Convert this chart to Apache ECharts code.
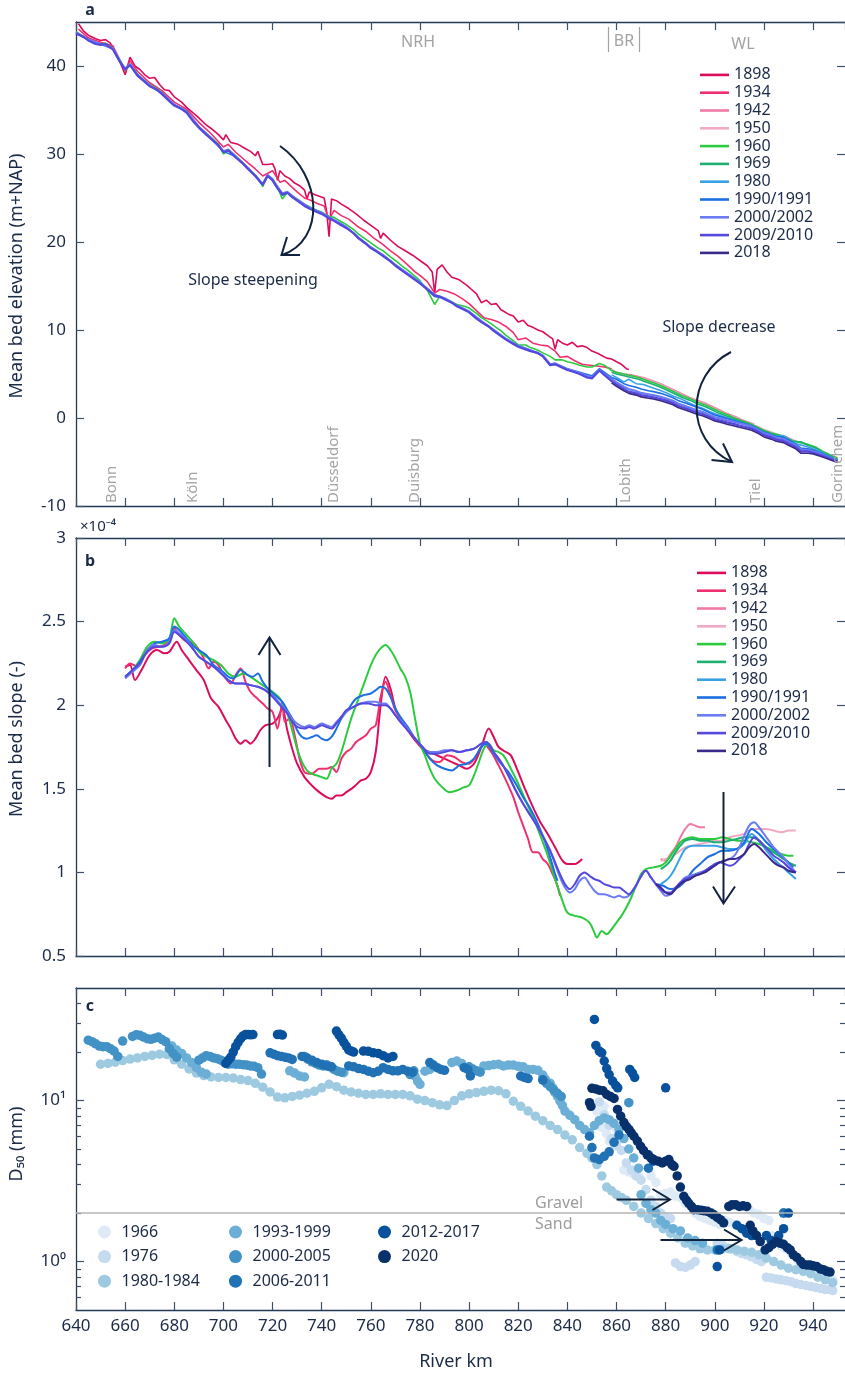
<!DOCTYPE html>
<html><head><meta charset="utf-8">
<script src="https://cdn.jsdelivr.net/npm/echarts@6/dist/echarts.min.js"></script>
<style>html,body{margin:0;padding:0;background:#fff}#chart{width:845px;height:1373px}</style>
</head><body><div id="chart"></div>
<script>
// ---------------- Panel a: mean bed elevation (m+NAP) ----------------
const elev1898 = [[641,44.8],[643,44.0],[645,43.5],[648,43.1],[650,42.9],[652,43.0],[654,42.6],[656,41.4],[658,40.4],[660,39.0],[662,41.0],[664,40.0],[666,39.6],[668,39.0],[670,38.6],[672,38.7],[674,37.9],[676,37.3],[678,37.2],[680,36.5],[683,35.9],[685,35.3],[688,34.6],[690,34.1],[693,33.3],[695,32.9],[698,32.2],[700,31.6],[701,32.2],[703,31.3],[706,31.1],[709,30.6],[711,30.3],[713,29.8],[714,30.3],[716,28.8],[718,28.8],[720,28.9],[721,28.3],[722,27.0],[723,28.1],[725,27.5],[727,27.2],[729,26.7],[731,26.4],[733,25.9],[734,24.9],[735,25.7],[737,25.4],[739,25.2],[741,25.0],[742,23.5],[743,20.6],[744,24.9],[746,24.7],[748,24.3],[751,23.8],[754,23.2],[757,22.5],[760,21.9],[763,21.3],[764,20.4],[765,21.0],[768,20.2],[771,19.5],[774,19.0],[777,18.5],[780,17.9],[783,17.3],[785,16.6],[786,14.2],[787,16.9],[789,17.4],[791,16.6],[793,16.0],[796,15.7],[799,15.1],[801,14.6],[803,14.1],[805,13.1],[807,13.4],[809,12.9],[811,13.0],[813,12.3],[816,11.8],[818,11.6],[820,10.9],[822,11.1],[824,10.5],[826,10.3],[828,10.0],[830,9.8],[832,9.4],[834,9.0],[835,7.8],[836,8.9],[838,8.5],[840,8.3],[842,8.6],[844,8.1],[846,8.2],[848,8.0],[850,7.6],[852,7.4],[854,7.1],[856,6.8],[858,6.7],[860,6.4],[862,6.1],[864,5.6],[865,5.5]];
const elev1934 = [[641,44.2],[645,43.2],[650,42.7],[655,42.3],[658,40.6],[660,39.4],[662,40.6],[665,39.4],[670,38.1],[675,37.2],[680,35.9],[685,35.1],[690,33.6],[695,32.3],[700,30.8],[702,31.1],[705,30.2],[710,29.0],[713,28.3],[716,27.5],[720,28.1],[723,26.8],[725,27.0],[728,26.2],[730,25.7],[733,25.0],[735,24.8],[738,24.4],[741,24.1],[743,22.5],[745,23.6],[748,23.0],[751,22.6],[755,21.7],[758,21.2],[761,20.5],[765,19.7],[768,19.0],[771,18.4],[775,17.4],[778,16.6],[780,16.2],[783,15.5],[786,14.2],[788,14.6],[791,14.4],[794,14.1],[797,13.6],[800,13.0],[803,12.2],[806,11.4],[809,11.2],[812,10.9],[815,10.4],[818,9.7],[820,8.9],[823,9.1],[826,8.5],[829,8.3],[832,8.2],[835,7.6],[837,6.9],[840,7.0],[843,6.5],[846,6.1],[849,6.0],[852,5.9],[855,5.8],[858,5.6]];
const elev1942 = [[858,5.5],[860,5.2],[863,5.0],[866,4.9],[869,4.7],[872,4.5],[875,4.2],[878,3.9],[881,3.5],[884,3.1],[887,2.7],[890,2.3],[893,2.0],[896,1.7],[899,1.3],[902,0.9],[905,0.5],[908,0.2],[911,-0.2],[914,-0.5],[916,-0.7]];
const elev1950 = [[858,5.4],[860,5.1],[863,4.9],[866,4.8],[869,4.6],[872,4.4],[875,4.1],[878,3.8],[881,3.4],[884,3.0],[887,2.6],[890,2.2],[893,1.9],[896,1.6],[899,1.2],[902,0.8],[905,0.4],[908,0.1],[911,-0.3],[914,-0.6],[917,-0.9],[920,-1.3],[923,-1.6],[926,-1.9],[929,-2.1],[932,-2.5],[935,-2.8],[938,-3.1],[941,-3.4],[944,-3.8],[947,-4.2],[950,-4.5]];
const elev1960 = [[640,43.9],[643,43.4],[645,43.0],[648,42.5],[650,42.5],[652,42.6],[655,42.0],[658,40.6],[660,39.5],[662,40.2],[665,39.1],[668,38.3],[670,37.9],[673,37.4],[675,37.0],[678,36.1],[680,35.6],[683,35.2],[685,34.8],[688,33.7],[690,33.0],[693,32.3],[695,31.9],[698,31.1],[700,30.0],[702,30.4],[705,29.8],[708,29.0],[710,28.4],[713,27.6],[715,26.9],[716,26.3],[718,27.6],[720,27.2],[722,26.2],[724,24.9],[726,25.6],[728,25.2],[730,24.9],[733,24.3],[735,24.0],[738,23.6],[740,23.4],[743,22.9],[745,22.8],[748,22.3],[750,22.0],[753,21.4],[755,20.9],[758,20.3],[760,19.9],[763,19.3],[765,19.0],[768,18.3],[770,17.9],[773,17.2],[775,16.8],[778,16.1],[780,15.6],[783,14.5],[786,12.9],[788,13.8],[790,13.6],[793,13.2],[795,12.9],[798,12.7],[800,12.5],[803,11.9],[805,11.4],[808,10.9],[810,10.5],[813,9.9],[815,9.4],[818,8.8],[820,8.3],[823,8.3],[825,8.0],[828,7.7],[830,7.4],[833,7.0],[835,6.6],[838,6.6],[840,6.4],[843,6.2],[845,6.0],[848,5.8],[850,5.8],[853,6.2],[855,6.0],[858,5.4],[860,5.2],[863,5.0],[866,4.8],[869,4.6],[872,4.3],[875,4.0],[878,3.7],[881,3.3],[884,2.9],[887,2.5],[890,2.2],[893,1.8],[896,1.5],[899,1.1],[902,0.7],[905,0.4],[908,0.0],[911,-0.3],[914,-0.6],[917,-1.0],[920,-1.4],[923,-1.7],[926,-1.9],[929,-2.2],[932,-2.6],[935,-2.8],[938,-3.0],[941,-3.3],[944,-3.8],[947,-4.2],[950,-4.6]];
const elev1969 = [[858,5.2],[860,5.0],[863,4.8],[866,4.6],[869,4.4],[872,4.1],[875,3.8],[878,3.5],[881,3.1],[884,2.7],[887,2.3],[890,2.0],[893,1.6],[896,1.3],[899,0.9],[902,0.5],[905,0.2],[908,-0.1],[911,-0.4],[914,-0.7],[917,-1.1],[920,-1.5],[923,-1.8],[926,-2.0],[929,-2.2],[932,-2.7],[935,-2.7],[938,-3.1],[941,-3.4],[944,-3.9],[947,-4.3],[950,-4.7]];
const elev1980 = [[858,4.9],[860,4.6],[863,4.1],[865,4.4],[868,3.9],[871,3.8],[874,3.5],[877,3.2],[880,2.9],[883,2.5],[886,2.2],[889,1.8],[892,1.4],[895,1.1],[898,0.7],[901,0.4],[904,0.1],[907,-0.2],[910,-0.5],[913,-0.8],[916,-1.2],[919,-1.5],[922,-1.8],[925,-2.1],[928,-2.0],[931,-2.6],[934,-3.0],[937,-3.2],[940,-3.5],[943,-3.8],[946,-4.3],[950,-4.8]];
const elev1990 = [[640,43.8],[645,43.0],[650,42.5],[655,42.0],[658,40.5],[660,39.7],[662,40.2],[665,39.0],[670,37.8],[675,36.9],[680,35.6],[685,34.9],[690,33.1],[695,31.8],[700,30.3],[705,29.7],[710,28.4],[715,26.9],[716,26.5],[718,27.6],[720,27.1],[724,25.3],[726,25.6],[730,24.8],[735,23.9],[740,23.3],[745,22.5],[750,21.7],[755,20.5],[760,19.4],[765,18.5],[770,17.4],[775,16.4],[780,15.4],[786,13.8],[790,13.6],[795,12.8],[800,12.1],[805,11.0],[810,10.0],[815,9.0],[820,8.2],[825,7.7],[830,7.1],[833,6.0],[835,6.2],[840,5.6],[845,5.2],[850,4.8],[853,5.6],[855,5.2],[858,4.6],[860,4.4],[863,3.9],[865,3.7],[868,3.5],[870,3.3],[873,3.1],[875,3.0],[878,2.8],[880,2.6],[883,2.3],[885,2.0],[888,1.7],[890,1.5],[893,1.2],[895,1.0],[898,0.6],[900,0.35],[903,0.1],[905,-0.05],[908,-0.3],[910,-0.45],[913,-0.7],[915,-0.85],[918,-1.3],[920,-1.6],[923,-1.9],[925,-2.1],[928,-2.2],[930,-2.5],[933,-3.0],[935,-3.4],[938,-3.5],[940,-3.65],[943,-3.95],[945,-4.2],[948,-4.6],[950,-4.8]];
const elev2000 = [[640,43.8],[645,43.0],[650,42.5],[655,42.0],[658,40.5],[660,39.7],[662,40.2],[665,39.0],[670,37.8],[675,36.9],[680,35.6],[685,34.8],[690,33.1],[695,31.8],[700,30.3],[702,30.5],[705,29.7],[710,28.4],[715,26.9],[716,26.6],[718,27.6],[720,27.1],[724,25.5],[726,25.7],[730,24.8],[735,23.9],[740,23.3],[745,22.5],[750,21.7],[755,20.5],[760,19.4],[765,18.5],[770,17.4],[775,16.4],[780,15.4],[783,14.7],[786,14.0],[790,13.6],[795,12.8],[800,12.1],[805,11.0],[810,10.0],[815,9.0],[820,8.2],[825,7.7],[830,7.1],[833,6.1],[835,6.2],[840,5.55],[845,5.1],[850,4.6],[853,5.5],[855,5.0],[858,4.45],[860,4.05],[863,3.55],[865,3.3],[868,3.05],[870,2.85],[873,2.7],[875,2.6],[878,2.4],[880,2.25],[883,1.95],[885,1.65],[888,1.35],[890,1.15],[893,0.85],[895,0.7],[898,0.35],[900,0.1],[903,-0.1],[905,-0.25],[908,-0.45],[910,-0.6],[913,-0.8],[915,-0.95],[918,-1.4],[920,-1.75],[923,-2.0],[925,-2.25],[928,-2.4],[930,-2.7],[933,-3.1],[935,-3.6],[938,-3.65],[940,-3.8],[943,-4.05],[945,-4.3],[948,-4.65],[950,-4.85]];
const elev2009 = [[640,43.7],[643,43.3],[645,42.9],[648,42.5],[650,42.4],[652,42.5],[655,41.9],[658,40.4],[660,39.6],[662,40.1],[665,38.9],[668,38.2],[670,37.7],[673,37.3],[675,36.8],[678,36.0],[680,35.5],[683,35.1],[685,34.7],[688,33.6],[690,33.0],[693,32.2],[695,31.7],[698,31.0],[700,30.2],[702,30.4],[705,29.6],[708,28.9],[710,28.3],[713,27.5],[715,26.8],[716,26.5],[718,27.5],[720,27.0],[722,26.1],[724,25.4],[726,25.6],[728,25.1],[730,24.7],[733,24.1],[735,23.8],[738,23.4],[740,23.2],[743,22.7],[745,22.4],[748,21.9],[750,21.6],[753,21.0],[755,20.4],[758,19.8],[760,19.3],[763,18.8],[765,18.4],[768,17.8],[770,17.3],[773,16.7],[775,16.3],[778,15.7],[780,15.3],[783,14.6],[786,13.9],[788,13.8],[790,13.5],[793,13.1],[795,12.7],[798,12.3],[800,12.0],[803,11.3],[805,10.9],[808,10.4],[810,9.9],[813,9.3],[815,8.9],[818,8.4],[820,8.1],[823,7.8],[825,7.6],[828,7.4],[830,7.0],[833,6.0],[835,6.1],[838,5.7],[840,5.45],[843,5.2],[845,5.0],[848,4.6],[850,4.5],[853,5.4],[855,4.9],[858,4.2],[860,3.8],[863,3.3],[865,3.0],[868,2.8],[870,2.6],[873,2.45],[875,2.35],[878,2.15],[880,2.0],[883,1.7],[885,1.4],[888,1.1],[890,0.9],[893,0.6],[895,0.45],[898,0.1],[900,-0.15],[903,-0.35],[905,-0.5],[908,-0.7],[910,-0.85],[913,-1.05],[915,-1.2],[918,-1.6],[920,-1.95],[923,-2.2],[925,-2.45],[928,-2.6],[930,-2.9],[933,-3.3],[935,-3.8],[938,-3.8],[940,-3.95],[943,-4.2],[945,-4.4],[948,-4.75],[950,-4.95]];
const elev2018 = [[858,4.0],[860,3.6],[863,3.1],[865,2.8],[868,2.6],[870,2.4],[873,2.25],[875,2.15],[878,1.95],[880,1.8],[883,1.5],[885,1.2],[888,0.9],[890,0.7],[893,0.4],[895,0.25],[898,-0.1],[900,-0.35],[903,-0.55],[905,-0.7],[908,-0.9],[910,-1.05],[913,-1.25],[915,-1.4],[918,-1.8],[920,-2.15],[923,-2.4],[925,-2.65],[928,-2.8],[930,-3.1],[933,-3.5],[935,-4.0],[938,-4.0],[940,-4.1],[943,-4.35],[945,-4.55],[948,-4.85],[950,-5.05]];

// ---------------- Panel b: mean bed slope (x 1e-4) ----------------
const slope1898 = [[660,2.23],[662,2.24],[664,2.15],[667,2.22],[670,2.30],[673,2.33],[676,2.31],[678,2.32],[681,2.38],[683,2.33],[686,2.27],[689,2.21],[692,2.15],[695,2.04],[698,1.99],[701,1.91],[703,1.86],[705,1.80],[707,1.77],[709,1.79],[711,1.77],[713,1.80],[715,1.85],[717,1.88],[720,1.89],[722,1.92],[724,1.98],[726,1.85],[728,1.74],[730,1.65],[733,1.57],[736,1.52],[739,1.48],[742,1.45],[744,1.44],[746,1.46],[748,1.46],[750,1.48],[753,1.51],[756,1.55],[758,1.56],[760,1.60],[762,1.72],[764,2.00],[766,2.17],[768,2.10],[770,1.98],[772,1.92],[775,1.85],[778,1.79],[781,1.74],[784,1.72],[787,1.70],[790,1.68],[793,1.66],[796,1.64],[799,1.62],[802,1.65],[805,1.75],[808,1.86],[810,1.81],[812,1.75],[815,1.72],[817,1.70],[820,1.60],[823,1.49],[826,1.39],[829,1.30],[832,1.23],[835,1.15],[838,1.07],[840,1.05],[843,1.05],[846,1.08]];
const slope1934 = [[660,2.22],[662,2.25],[665,2.23],[668,2.30],[671,2.34],[674,2.35],[677,2.37],[680,2.46],[682,2.42],[685,2.38],[688,2.37],[690,2.33],[692,2.28],[694,2.22],[696,2.26],[698,2.24],[700,2.18],[703,2.13],[705,2.18],[707,2.22],[709,2.14],[711,2.08],[713,2.05],[716,2.01],[718,1.98],[720,1.96],[722,1.86],[724,2.02],[725,1.90],[727,1.92],[729,1.82],[731,1.68],[733,1.60],[736,1.59],[739,1.62],[742,1.62],[744,1.63],[746,1.60],[748,1.68],[750,1.72],[752,1.74],[754,1.78],[756,1.80],[758,1.82],[760,1.86],[762,1.88],[764,2.05],[766,2.14],[768,2.06],[770,1.97],[773,1.90],[776,1.84],[779,1.78],[782,1.72],[785,1.67],[788,1.66],[791,1.70],[794,1.69],[797,1.66],[800,1.65],[803,1.70],[806,1.77],[809,1.72],[812,1.64],[815,1.55],[818,1.45],[820,1.36],[822,1.28],[824,1.20],[826,1.12],[828,1.12],[830,1.08],[832,1.05],[834,0.99],[836,0.92],[837,0.86]];
const slope1942 = [[878,1.08],[880,1.07],[882,1.11],[884,1.15],[886,1.21],[888,1.26],[890,1.29],[892,1.28],[894,1.27],[896,1.27]];
const slope1950 = [[878,1.07],[880,1.08],[882,1.09],[885,1.12],[888,1.15],[891,1.16],[894,1.17],[897,1.18],[900,1.19],[903,1.19],[906,1.21],[909,1.22],[912,1.23],[915,1.26],[918,1.26],[921,1.26],[924,1.25],[927,1.24],[930,1.25],[933,1.25]];
const slope1960 = [[660,2.17],[663,2.21],[666,2.27],[669,2.35],[672,2.38],[675,2.37],[678,2.40],[680,2.52],[682,2.47],[685,2.42],[688,2.37],[690,2.32],[693,2.29],[696,2.27],[699,2.24],[702,2.19],[705,2.17],[708,2.19],[711,2.17],[714,2.14],[717,2.11],[720,2.08],[723,2.04],[726,1.95],[728,1.85],[730,1.74],[732,1.66],[734,1.61],[736,1.59],[738,1.58],[740,1.57],[742,1.56],[744,1.62],[746,1.65],[748,1.72],[750,1.82],[752,1.92],[754,2.00],[756,2.08],[758,2.16],[760,2.24],[762,2.30],[764,2.34],[766,2.36],[768,2.33],[770,2.28],[772,2.22],[774,2.17],[776,2.08],[778,1.92],[780,1.77],[782,1.70],[784,1.62],[786,1.56],[789,1.51],[792,1.48],[795,1.49],[798,1.51],[800,1.52],[802,1.58],[804,1.66],[806,1.74],[808,1.77],[810,1.73],[812,1.72],[814,1.70],[817,1.62],[820,1.53],[823,1.43],[826,1.33],[829,1.22],[832,1.10],[835,0.96],[838,0.83],[840,0.76],[843,0.74],[846,0.73],[849,0.70],[851,0.64],[852,0.61],[854,0.65],[856,0.63],[858,0.66],[860,0.70],[862,0.74],[864,0.79],[866,0.85],[868,0.92],[870,0.99],[872,1.02],[875,1.03],[878,1.04],[880,1.06],[882,1.10],[884,1.14],[886,1.18],[888,1.20],[891,1.21],[894,1.20],[897,1.20],[900,1.20],[903,1.21],[906,1.20],[909,1.19],[912,1.19],[915,1.18],[918,1.17],[921,1.15],[924,1.13],[927,1.11],[930,1.10],[932,1.10]];
const slope1969 = [[878,1.02],[880,1.04],[882,1.07],[884,1.12],[886,1.16],[888,1.19],[891,1.20],[894,1.19],[897,1.19],[900,1.18],[903,1.18],[906,1.19],[909,1.20],[912,1.21],[915,1.21],[918,1.19],[921,1.15],[924,1.12],[927,1.09],[930,1.06],[933,1.04]];
const slope1980 = [[878,0.93],[880,0.95],[882,0.98],[884,1.03],[886,1.09],[888,1.14],[891,1.16],[894,1.16],[897,1.16],[900,1.16],[903,1.15],[906,1.14],[909,1.14],[912,1.17],[915,1.23],[918,1.19],[921,1.13],[924,1.08],[927,1.04],[930,1.00],[933,0.96]];
const slope1990 = [[660,2.17],[663,2.21],[666,2.26],[669,2.33],[672,2.37],[675,2.38],[678,2.40],[680,2.47],[682,2.45],[685,2.40],[688,2.35],[690,2.33],[693,2.30],[696,2.24],[699,2.21],[702,2.17],[704,2.16],[707,2.21],[710,2.18],[712,2.17],[714,2.19],[716,2.14],[718,2.10],[721,2.06],[724,2.02],[726,1.97],[728,1.92],[730,1.85],[732,1.81],[734,1.80],[736,1.81],[738,1.82],[740,1.80],[742,1.79],[744,1.81],[746,1.86],[748,1.92],[751,1.98],[754,2.04],[757,2.06],[760,2.07],[762,2.09],[764,2.11],[766,2.10],[768,2.05],[770,1.98],[772,1.93],[775,1.87],[778,1.80],[781,1.75],[784,1.68],[787,1.64],[790,1.62],[793,1.61],[796,1.64],[799,1.65],[802,1.68],[805,1.75],[807,1.77],[810,1.71],[813,1.65],[816,1.60],[819,1.53],[822,1.45],[825,1.38],[828,1.29],[831,1.18],[833,1.09],[835,0.99],[836,0.95],[856,null],[876,0.93],[879,0.92],[882,0.90],[885,0.91],[888,0.95],[891,1.01],[894,1.05],[897,1.09],[900,1.11],[903,1.13],[906,1.13],[909,1.14],[912,1.18],[915,1.26],[918,1.23],[921,1.18],[924,1.14],[927,1.10],[930,1.06],[932,1.03]];
const slope2000 = [[660,2.16],[663,2.20],[666,2.24],[669,2.33],[672,2.36],[675,2.35],[678,2.38],[680,2.45],[682,2.43],[685,2.39],[688,2.33],[690,2.29],[693,2.26],[696,2.23],[699,2.20],[702,2.15],[705,2.13],[708,2.13],[711,2.12],[714,2.11],[717,2.09],[720,2.06],[723,2.01],[726,1.96],[728,1.92],[730,1.89],[733,1.87],[735,1.88],[737,1.87],[740,1.89],[742,1.88],[744,1.87],[746,1.90],[748,1.93],[750,1.96],[753,1.99],[756,2.01],[759,2.02],[762,2.02],[764,2.01],[766,2.01],[768,1.98],[770,1.94],[772,1.91],[775,1.86],[778,1.80],[781,1.75],[784,1.72],[787,1.72],[790,1.73],[793,1.73],[796,1.72],[799,1.73],[802,1.74],[805,1.77],[807,1.78],[810,1.72],[813,1.66],[816,1.58],[819,1.49],[822,1.41],[825,1.34],[828,1.27],[831,1.19],[833,1.13],[835,1.05],[837,0.97],[839,0.91],[841,0.88],[843,0.90],[845,0.95],[847,0.97],[849,0.93],[851,0.89],[853,0.87],[855,0.87],[857,0.86],[859,0.85],[861,0.86],[863,0.85],[865,0.86],[867,0.90],[869,0.95],[871,1.00],[872,1.01],[874,0.97],[876,0.93],[878,0.89],[880,0.86],[882,0.87],[884,0.90],[886,0.94],[888,0.97],[890,0.98],[892,0.99],[894,1.00],[896,1.01],[898,1.03],[900,1.05],[902,1.06],[904,1.07],[906,1.08],[908,1.10],[910,1.15],[912,1.22],[914,1.28],[916,1.30],[918,1.27],[920,1.23],[922,1.19],[924,1.15],[926,1.12],[928,1.09],[930,1.05],[933,1.00]];
const slope2009 = [[660,2.17],[663,2.21],[666,2.25],[669,2.32],[672,2.35],[675,2.35],[678,2.37],[680,2.44],[682,2.42],[685,2.38],[688,2.33],[690,2.29],[693,2.26],[696,2.23],[699,2.19],[702,2.15],[705,2.13],[708,2.13],[711,2.12],[714,2.11],[717,2.09],[720,2.05],[723,2.00],[726,1.95],[728,1.90],[730,1.87],[733,1.86],[735,1.87],[737,1.86],[740,1.88],[742,1.87],[744,1.86],[746,1.89],[748,1.93],[750,1.97],[753,1.99],[756,2.01],[759,2.01],[762,2.00],[764,2.00],[766,2.00],[768,1.98],[770,1.94],[772,1.90],[775,1.85],[778,1.80],[781,1.75],[784,1.71],[787,1.71],[790,1.72],[793,1.73],[796,1.72],[799,1.73],[802,1.74],[805,1.77],[807,1.78],[810,1.72],[813,1.66],[816,1.58],[819,1.49],[822,1.41],[825,1.34],[828,1.27],[831,1.19],[833,1.13],[835,1.06],[837,0.99],[839,0.93],[841,0.90],[843,0.93],[845,0.98],[847,1.00],[849,0.98],[851,0.96],[853,0.95],[855,0.93],[857,0.92],[859,0.91],[861,0.91],[863,0.89],[865,0.87],[867,0.90],[869,0.95],[871,1.00],[872,1.01],[874,0.97],[876,0.93],[878,0.90],[880,0.88],[882,0.88],[884,0.91],[886,0.94],[888,0.96],[890,0.97],[892,0.98],[894,0.99],[896,1.01],[898,1.03],[900,1.05],[902,1.06],[904,1.05],[906,1.04],[908,1.05],[910,1.08],[912,1.11],[914,1.17],[916,1.21],[918,1.19],[920,1.16],[922,1.13],[924,1.10],[926,1.08],[928,1.06],[930,1.03],[933,1.00]];
const slope2018 = [[876,0.93],[878,0.91],[880,0.88],[882,0.87],[884,0.90],[886,0.93],[888,0.95],[890,0.96],[892,0.98],[894,0.99],[896,1.00],[898,1.02],[900,1.04],[902,1.06],[904,1.07],[906,1.08],[908,1.08],[910,1.09],[912,1.11],[914,1.15],[916,1.17],[918,1.15],[920,1.12],[922,1.09],[924,1.06],[926,1.04],[928,1.03],[930,1.01],[933,1.00]];

// ---------------- Panel c: D50 (mm) ----------------
const d50_1966 = [[852,8.6],[853,7.6],[854,6.8],[855,9.2],[856,6.2],[857,5.6],[858,7.4],[859,5.2],[860,6.6],[862,5.8],[863,3.7],[865,3.6],[867,3.5],[869,3.4],[874,3.4],[876,3.1],[878,2.6],[880,2.65],[882,2.7],[884,2.55],[886,2.5],[888,2.3],[892,2.0],[894,1.9],[896,1.85],[898,1.8],[900,1.75],[902,1.7],[904,1.8],[906,1.75],[908,1.7],[914,2.1],[916,2.0],[918,1.95],[920,1.85],[922,1.8],[923,1.45],[925,1.35],[927,1.25],[929,1.2],[931,1.13],[934,1.0],[936,0.96],[938,0.93],[940,0.9],[942,0.88],[944,0.85],[946,0.8],[948,0.77]];
const d50_1976 = [[853,9.8],[855,8.2],[857,7.0],[858,5.8],[860,5.3],[862,4.9],[864,4.1],[866,3.7],[868,3.4],[870,3.2],[872,2.8],[874,2.4],[876,2.2],[878,2.0],[880,1.9],[882,1.85],[884,0.98],[886,0.93],[888,0.92],[890,0.95],[892,1.0],[901,1.3],[903,1.27],[905,1.22],[907,1.2],[909,1.15],[911,1.12],[913,1.1],[915,1.07],[917,1.03],[919,1.0],[921,0.8],[923,0.79],[925,0.78],[927,0.77],[929,0.76],[931,0.75],[933,0.73],[935,0.72],[937,0.71],[939,0.7],[941,0.69],[943,0.68],[945,0.67],[947,0.67],[948,0.66]];
const d50_1980 = [[650,16.8],[653,17.0],[656,17.3],[659,17.7],[662,18.1],[665,18.4],[668,18.8],[671,19.1],[674,19.4],[677,19.3],[680,17.9],[683,16.8],[686,15.7],[689,14.8],[692,14.3],[695,14.0],[698,13.9],[701,13.9],[704,13.8],[707,13.5],[710,13.3],[713,12.8],[716,12.1],[719,11.3],[722,10.5],[725,10.4],[728,10.6],[731,10.8],[734,11.1],[737,11.4],[740,12.0],[743,12.6],[746,12.2],[749,11.6],[752,11.3],[755,11.1],[758,10.9],[761,10.9],[764,11.0],[767,10.9],[770,10.9],[773,10.9],[776,10.7],[779,10.2],[782,10.0],[785,9.7],[788,9.4],[791,9.3],[794,10.0],[797,10.7],[800,11.0],[803,11.2],[806,11.4],[809,11.6],[812,11.5],[815,11.0],[818,9.9],[821,9.2],[824,8.6],[827,8.0],[830,7.5],[833,7.0],[836,6.6],[839,6.1],[842,5.7],[845,5.1],[848,4.7],[850,4.4],[852,4.0],[854,3.4],[856,2.9],[858,2.75],[860,2.6],[862,2.5],[864,2.4],[867,2.2],[870,2.0],[873,1.85],[876,1.72],[879,1.6],[882,1.5],[885,1.4],[888,1.3],[891,1.25],[894,1.2],[897,1.18],[900,1.18],[903,1.2],[906,1.2],[909,1.18],[912,1.16],[915,1.14],[918,1.1],[921,1.05],[924,1.0],[927,0.95],[930,0.91],[933,0.89],[936,0.87],[939,0.84],[942,0.8],[945,0.77],[948,0.74]];
const d50_1993 = [[679,21.8],[681,20.6],[683,19.6],[685,18.4],[687,17.2],[689,16.0],[691,15.0],[693,14.6],[727,15.3],[729,14.8],[731,14.2],[733,14.0],[749,14.9],[778,14.2],[779,13.2],[780,12.6],[782,15.2],[784,15.6],[793,17.2],[795,17.6],[797,17.0],[806,16.4],[808,16.5],[810,16.7],[812,16.8],[814,16.4],[816,16.6],[818,16.6],[820,16.3],[822,16.2],[824,15.6],[826,15.6],[828,15.4],[830,14.4],[831,13.6],[833,12.8],[834,12.0],[835,11.2],[836,10.6],[837,9.9],[838,9.3],[839,8.6],[841,8.1],[843,7.6],[845,7.0],[847,6.6],[849,6.3],[851,7.0],[853,7.5],[855,7.8],[857,7.6],[859,7.2],[861,6.6],[863,5.8],[865,5.0],[867,4.4],[869,3.8],[870,2.6],[872,2.3],[874,2.1],[876,2.0],[878,1.8],[880,1.7],[883,1.6],[886,1.55],[889,1.4],[892,1.35],[895,1.3]];
const d50_2000 = [[645,23.7],[646.5,23.2],[648,22.5],[649.5,21.8],[651,21.6],[652.5,21.6],[654,21.0],[655.5,20.3],[657,18.8],[659,23.4],[663,25.0],[664.5,25.6],[666,25.4],[667.5,24.8],[669,24.2],[670.5,24.0],[672,24.4],[673.5,24.8],[675,23.9],[676.5,23.2],[678,21.0],[679.5,19.6],[681,18.6],[690,17.8],[691.5,18.4],[693,19.0],[694.5,18.8],[696,18.4],[697.5,18.2],[699,17.8],[700.5,17.2],[702,16.8],[703.5,16.9],[705,16.8],[706.5,16.8],[708,16.7],[709.5,16.6],[711,16.4],[712.5,16.3],[714,16.0],[715.5,14.6],[733,18.8],[734.5,18.0],[736,17.4],[737.5,17.0],[739,16.6],[740.5,16.4],[742,16.7],[743.5,16.2],[745,15.6],[746.5,15.2],[748,15.0],[776,14.5],[777.5,15.3],[800,16.2],[801.5,15.7],[803,15.3],[804.5,15.0],[830,13.5],[831.5,12.8],[833,12.2],[834.5,11.6],[836,11.1],[837.5,10.6],[865,9.7],[928,2.0]];
const d50_2006 = [[719,19.8],[720.5,19.4],[722,19.0],[723.5,18.8],[725,18.6],[726.5,18.4],[728,18.0],[732,18.8],[734,18.4],[736,17.8],[738,17.2],[740,16.8],[742,16.4],[744,16.2],[751,16.4],[753,16.2],[755,15.8],[757,15.6],[759,15.2],[761,14.9],[763,15.2],[765,16.0],[767,15.6],[769,15.3],[771,15.3],[773,15.6],[775,15.2],[777,15.0],[784,17.2],[785.5,16.6],[787,16.0],[788.5,15.6],[790,15.4],[798,16.0],[799.5,15.6],[800.5,14.2],[821,14.2],[822.5,13.9],[824,13.7],[830,13.4],[849,6.0],[850,5.1],[851,4.4],[853,4.3],[855,4.5],[857,4.8],[859,5.5],[861,6.1],[873,3.8],[901,1.18],[928,2.0]];
const d50_2012 = [[701,17.0],[702,17.8],[703,18.6],[704,20.0],[705,21.6],[706,23.0],[707,24.2],[708,25.2],[709,25.7],[710,25.7],[711,25.6],[712,25.7],[722,25.7],[723,25.8],[724,25.5],[746,27.0],[747,25.6],[748,24.4],[749,23.0],[750,21.8],[751,20.6],[752,20.3],[753,20.0],[757,20.3],[759,20.2],[761,19.8],[763,19.6],[765,19.0],[767,18.4],[769,18.8],[851,31.9],[851.6,22.0],[853,20.3],[854,19.8],[855,17.6],[856,15.8],[857,14.5],[858.4,13.2],[859.7,12.4],[860.5,12.0],[865.4,15.6],[866.5,14.8],[867.4,13.9],[873,4.6],[875,4.2],[880,12.0],[901,0.93],[902,1.18],[909,1.68],[911,1.6],[913,1.5],[915,1.45],[921,1.45],[923,1.35],[926,1.45],[928,1.6],[930,2.0]];
const d50_2020 = [[849,9.7],[849.6,9.2],[850,11.9],[851.5,11.8],[853,11.6],[854.5,11.5],[856,10.9],[857.5,10.6],[859,10.3],[860.4,8.8],[861.7,8.0],[863,7.3],[864,6.9],[865.1,6.6],[866,6.3],[867.1,6.0],[868.5,5.6],[869.8,5.2],[871,4.9],[872.5,4.6],[874,4.4],[875.2,4.3],[877,4.2],[878.6,4.1],[880,4.2],[881.3,4.3],[882.5,4.0],[883.4,3.9],[884.7,3.4],[886,2.9],[887.4,2.54],[888.5,2.4],[889.4,2.3],[890.5,2.2],[891.5,2.1],[893,2.1],[894.5,2.08],[895.5,2.07],[897,2.05],[898.5,2.0],[899.6,1.95],[901,1.88],[902.3,1.82],[903.6,1.74],[905.7,2.2],[907,2.25],[908.5,2.25],[910,2.2],[911.5,2.22],[913,2.2],[914.4,1.68],[915.5,1.55],[917,1.45],[918.5,1.33],[920.5,1.18],[922,1.22],[923.5,1.28],[925,1.33],[926.5,1.3],[928,1.28],[929.5,1.22],[930.7,1.18],[932,1.1],[933.4,1.06],[935,1.0],[936,0.96],[937.5,0.95],[938.8,0.95],[940,0.94],[941.5,0.93],[943,0.9],[944.2,0.89],[945.5,0.87],[946.9,0.86]];

// ---------------- names, colours, ticks ----------------
const surveyNames = ['1898','1934','1942','1950','1960','1969','1980','1990/1991','2000/2002','2009/2010','2018'];
const surveyColors = ['#dc0c5c','#f0306e','#f27aa6','#f0aac6','#2ccb3e','#1db071','#38a2e4','#1b6fe2','#6b7cf3','#5548de','#3b2a8c'];
const elevSeries = [elev1898, elev1934, elev1942, elev1950, elev1960, elev1969, elev1980, elev1990, elev2000, elev2009, elev2018];
const slopeSeries = [slope1898, slope1934, slope1942, slope1950, slope1960, slope1969, slope1980, slope1990, slope2000, slope2009, slope2018];
const d50Names = ['1966','1976','1980-1984','1993-1999','2000-2005','2006-2011','2012-2017','2020'];
const d50Colors = ['#deebf7','#c6dbef','#9ecae1','#6baed6','#4292c6','#2171b5','#08519c','#08306b'];
const d50Series = [d50_1966, d50_1976, d50_1980, d50_1993, d50_2000, d50_2006, d50_2012, d50_2020];
const d50MajorTicks = [1, 10];
const d50MinorTicks = [0.6, 0.7, 0.8, 0.9, 2, 3, 4, 5, 6, 7, 8, 9, 20, 30, 40];
const gravelSandLimit = 2;

const FONT = '"Noto Sans", "Open Sans", "DejaVu Sans", sans-serif';
const AXC = '#22395a';
const TICKC = '#3d4f6a';
const TXT = '#1b2b47';
const GRAY = '#a3a3a3';

function xAx(grid, pos, labels) {
  return {
    type: 'value', gridIndex: grid, position: pos, min: 640, max: 953, interval: 20,
    axisLine: { show: true, onZero: false, lineStyle: { color: AXC, width: 1.3 } },
    axisTick: { show: true, inside: true, length: 8, lineStyle: { color: TICKC, width: 1.2 } },
    axisLabel: { show: labels, showMaxLabel: false, fontSize: 17, color: TXT, fontFamily: FONT, margin: 8,
      formatter: v => (v % 20 === 0 ? String(v) : '') },
    splitLine: { show: false }
  };
}
function yAx(grid, pos, min, max, interval, labels) {
  return {
    type: 'value', gridIndex: grid, position: pos, min, max, interval,
    axisLine: { show: pos === 'left', onZero: false, lineStyle: { color: AXC, width: 1.3 } },
    axisTick: { show: true, inside: true, length: 8, lineStyle: { color: TICKC, width: 1.2 } },
    axisLabel: { show: labels, showMaxLabel: max === 3, fontSize: 17, color: TXT, fontFamily: FONT, margin: 10 },
    splitLine: { show: false }
  };
}
function logAx(pos, ticks, len, labels, line) {
  const sup = { 0: '⁰', 1: '¹' };
  return {
    type: 'log', logBase: 10, gridIndex: 2, position: pos, min: 0.5, max: 50,
    axisLine: { show: line, onZero: false, lineStyle: { color: AXC, width: 1.3 } },
    axisTick: { show: true, inside: true, length: len, customValues: ticks, lineStyle: { color: TICKC, width: 1.2 } },
    axisLabel: { show: labels, customValues: d50MajorTicks, fontSize: 17, color: TXT, fontFamily: FONT, margin: 10,
      formatter: v => '10' + (sup[Math.round(Math.log10(v))] || '') },
    splitLine: { show: false }, minorTick: { show: false }
  };
}

const series = [];
elevSeries.forEach((d, i) => {
  const thick = (i === 8 || i === 9);
  series.push({ type: 'line', name: surveyNames[i], xAxisIndex: 0, yAxisIndex: 0, data: d, symbol: 'none',
    lineStyle: { color: surveyColors[i], width: thick ? 2.2 : 1.6 }, itemStyle: { color: surveyColors[i] }, z: 2 + i * 0.01 });
});
slopeSeries.forEach((d, i) => {
  series.push({ type: 'line', name: surveyNames[i], xAxisIndex: 2, yAxisIndex: 2, data: d, symbol: 'none', smooth: 0.3,
    lineStyle: { color: surveyColors[i], width: 2 }, itemStyle: { color: surveyColors[i] }, z: 2 + i * 0.01 });
});
d50Series.forEach((d, i) => {
  const s = { type: 'scatter', name: d50Names[i], xAxisIndex: 4, yAxisIndex: 4, data: d, symbol: 'circle', symbolSize: 9.5,
    itemStyle: { color: d50Colors[i], opacity: 1 }, z: 2 + i * 0.01 };
  if (i === 0) {
    s.markLine = { silent: true, symbol: 'none', label: { show: false }, animation: false,
      lineStyle: { color: '#b4b4b4', width: 1.5, type: 'solid' }, data: [{ yAxis: gravelSandLimit }] };
  }
  series.push(s);
});

const legendText = { fontSize: 16, color: TXT, fontFamily: FONT };
function lineLegend(left, top) {
  return { data: surveyNames, orient: 'vertical', left, top, padding: 0, itemGap: 0, itemWidth: 29, itemHeight: 2.6,
    icon: 'rect', selectedMode: false, textStyle: Object.assign({ lineHeight: 17.8 }, legendText) };
}
function dotLegend(names, left) {
  return { data: names, orient: 'vertical', left, top: 1219.7, padding: 0, itemGap: 0, itemWidth: 24, itemHeight: 13,
    icon: 'circle', selectedMode: false, textStyle: Object.assign({ lineHeight: 24.6 }, legendText) };
}

function txt(x, y, text, opts) {
  opts = opts || {};
  return { type: 'text', x, y, rotation: opts.rot || 0, z: 10, silent: true,
    style: { text, fill: opts.color || TXT, fontSize: opts.size || 16, fontFamily: FONT, fontWeight: opts.weight || 'normal',
      align: opts.align || 'center', verticalAlign: opts.va || 'middle' } };
}
const R = Math.PI / 2;
const ARW = { stroke: '#10223d', lineWidth: 2, fill: null };
function seg(x1, y1, x2, y2, style) { return { type: 'line', silent: true, z: 10, shape: { x1, y1, x2, y2 }, style: style || ARW }; }
function pl(points) { return { type: 'polyline', silent: true, z: 10, shape: { points }, style: ARW }; }

const graphics = [
  txt(90, 10, 'a', { weight: 'bold', size: 16 }),
  txt(90, 561, 'b', { weight: 'bold', size: 16 }),
  txt(90, 1006, 'c', { weight: 'bold', size: 16 }),
  txt(17, 276, 'Mean bed elevation (m+NAP)', { rot: R, size: 18 }),
  txt(17, 739, 'Mean bed slope (-)', { rot: R, size: 18 }),
  txt(17, 1144, 'D₅₀ (mm)', { rot: R, size: 18 }),
  txt(456, 1362, 'River km', { size: 18 }),
  txt(80, 527, '×10⁻⁴', { align: 'left', size: 15 }),
  // city labels (panel a)
  txt(112, 503, 'Bonn', { rot: R, align: 'left', color: GRAY, size: 15 }),
  txt(193, 503, 'Köln', { rot: R, align: 'left', color: GRAY, size: 15 }),
  txt(334, 503, 'Düsseldorf', { rot: R, align: 'left', color: GRAY, size: 15 }),
  txt(415, 503, 'Duisburg', { rot: R, align: 'left', color: GRAY, size: 15 }),
  txt(626, 503, 'Lobith', { rot: R, align: 'left', color: GRAY, size: 15 }),
  txt(756, 503, 'Tiel', { rot: R, align: 'left', color: GRAY, size: 15 }),
  txt(838, 503, 'Gorinchem', { rot: R, align: 'left', color: GRAY, size: 15 }),
  txt(418, 42, 'NRH', { color: GRAY, size: 16 }),
  txt(624, 41, 'BR', { color: GRAY, size: 16 }),
  txt(743, 44, 'WL', { color: GRAY, size: 16 }),
  seg(608.5, 27, 608.5, 52, { stroke: GRAY, lineWidth: 1.2 }),
  seg(639.5, 27, 639.5, 52, { stroke: GRAY, lineWidth: 1.2 }),
  // panel a arrows and notes
  { type: 'bezierCurve', silent: true, z: 10, shape: { x1: 280, y1: 146, cpx1: 322, cpy1: 175, cpx2: 326, cpy2: 240, x2: 282, y2: 255 }, style: ARW },
  pl([[287, 237], [281.5, 255], [300, 255]]),
  txt(253, 280, 'Slope steepening', { size: 16 }),
  { type: 'bezierCurve', silent: true, z: 10, shape: { x1: 731, y1: 352, cpx1: 686, cpy1: 375, cpx2: 684, cpy2: 440, x2: 732, y2: 462 }, style: ARW },
  pl([[711.5, 460], [732, 462], [723, 443.5]]),
  txt(719, 327, 'Slope decrease', { size: 16 }),
  // panel b arrows
  seg(269.5, 767, 269.5, 638),
  pl([[258.5, 655], [269.5, 637.5], [280.5, 655]]),
  seg(723.5, 792, 723.5, 903),
  pl([[713, 886.5], [723.5, 903.5], [735, 886.5]]),
  // panel c arrows and notes
  seg(616.5, 1199.5, 669, 1199.5),
  pl([[652.5, 1189], [670, 1199.5], [652.5, 1210]]),
  seg(660.5, 1240, 740, 1240),
  pl([[724, 1229.5], [741.5, 1240], [724, 1250.5]]),
  txt(535, 1203, 'Gravel', { align: 'left', color: '#9d9d9d', size: 16 }),
  txt(535, 1224, 'Sand', { align: 'left', color: '#9d9d9d', size: 16 })
];

const option = {
  animation: false,
  backgroundColor: '#ffffff',
  textStyle: { fontFamily: FONT },
  grid: [
    { left: 76, top: 22, width: 772, height: 484 },
    { left: 76, top: 538, width: 772, height: 418 },
    { left: 76, top: 988, width: 772, height: 322 }
  ],
  xAxis: [xAx(0, 'bottom', false), xAx(0, 'top', false), xAx(1, 'bottom', false), xAx(1, 'top', false), xAx(2, 'bottom', true), xAx(2, 'top', false)],
  yAxis: [
    yAx(0, 'left', -10, 45, 10, true), yAx(0, 'right', -10, 45, 10, false),
    yAx(1, 'left', 0.5, 3, 0.5, true), yAx(1, 'right', 0.5, 3, 0.5, false),
    logAx('left', d50MajorTicks, 8, true, true), logAx('left', d50MinorTicks, 5, false, false),
    logAx('right', d50MajorTicks, 8, false, false), logAx('right', d50MinorTicks, 5, false, false)
  ],
  legend: [
    lineLegend(700, 66), lineLegend(697, 564),
    dotLegend(['1966', '1976', '1980-1984'], 98),
    dotLegend(['1993-1999', '2000-2005', '2006-2011'], 229),
    dotLegend(['2012-2017', '2020'], 378)
  ],
  series,
  graphic: { elements: graphics }
};
const chart = echarts.init(document.getElementById('chart'), null, { renderer: 'canvas' });
chart.setOption(option);
</script></body></html>
